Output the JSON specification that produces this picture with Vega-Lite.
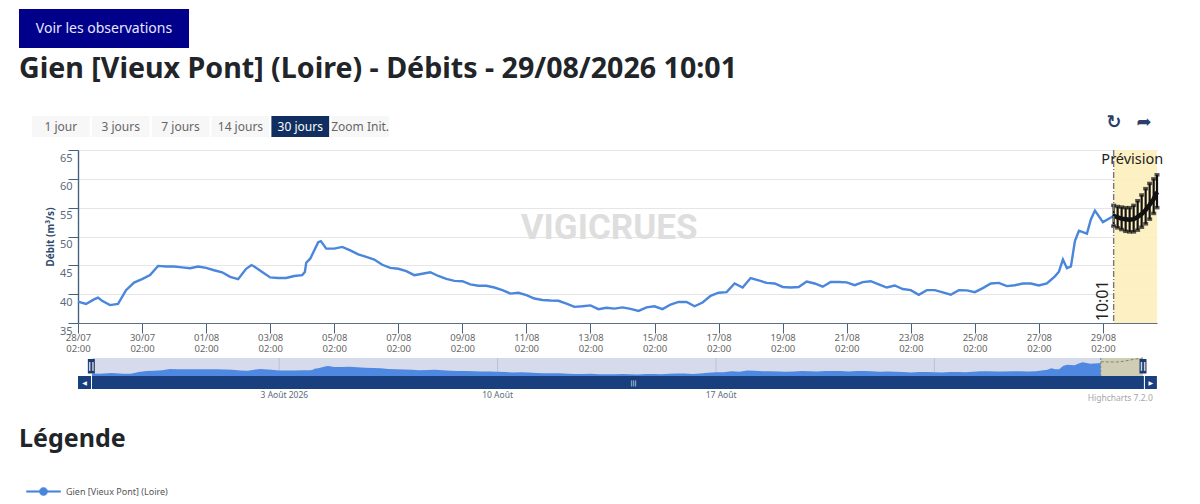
{
  "$schema": "https://vega.github.io/schema/vega-lite/v6.json",
  "autosize": {"type": "none"},
  "width": 1079,
  "height": 173,
  "padding": {"left": 78, "top": 150, "right": 43, "bottom": 181},
  "background": "white",
  "config": {"font": "Noto Sans", "view": {"stroke": null}},
  "datasets": {
    "debit": [
      {"date":"2026-07-28T02:00Z","debit":38.7},{"date":"2026-07-28T08:00Z","debit":38.3},{"date":"2026-07-28T14:00Z","debit":39.1},{"date":"2026-07-28T17:00Z","debit":39.4},{"date":"2026-07-28T20:00Z","debit":38.85},
      {"date":"2026-07-29T02:00Z","debit":38.1},{"date":"2026-07-29T08:00Z","debit":38.3},{"date":"2026-07-29T14:00Z","debit":40.7},{"date":"2026-07-29T20:00Z","debit":42.0},
      {"date":"2026-07-30T02:00Z","debit":42.6},{"date":"2026-07-30T08:00Z","debit":43.3},{"date":"2026-07-30T14:00Z","debit":44.9},{"date":"2026-07-30T20:00Z","debit":44.8},
      {"date":"2026-07-31T02:00Z","debit":44.8},{"date":"2026-07-31T08:00Z","debit":44.65},{"date":"2026-07-31T14:00Z","debit":44.5},{"date":"2026-07-31T20:00Z","debit":44.8},
      {"date":"2026-08-01T02:00Z","debit":44.55},{"date":"2026-08-01T08:00Z","debit":44.15},{"date":"2026-08-01T14:00Z","debit":43.8},{"date":"2026-08-01T20:00Z","debit":43.0},
      {"date":"2026-08-02T02:00Z","debit":42.6},{"date":"2026-08-02T08:00Z","debit":44.4},{"date":"2026-08-02T12:00Z","debit":45.05},{"date":"2026-08-02T14:00Z","debit":44.8},{"date":"2026-08-02T20:00Z","debit":43.85},
      {"date":"2026-08-03T02:00Z","debit":42.9},{"date":"2026-08-03T08:00Z","debit":42.8},{"date":"2026-08-03T14:00Z","debit":42.8},{"date":"2026-08-03T20:00Z","debit":43.15},
      {"date":"2026-08-04T02:00Z","debit":43.3},{"date":"2026-08-04T04:00Z","debit":43.85},{"date":"2026-08-04T05:00Z","debit":45.45},{"date":"2026-08-04T08:00Z","debit":46.15},{"date":"2026-08-04T14:00Z","debit":49.0},{"date":"2026-08-04T16:00Z","debit":49.2},{"date":"2026-08-04T20:00Z","debit":47.9},
      {"date":"2026-08-05T02:00Z","debit":47.9},{"date":"2026-08-05T08:00Z","debit":48.2},{"date":"2026-08-05T14:00Z","debit":47.6},{"date":"2026-08-05T20:00Z","debit":46.9},
      {"date":"2026-08-06T02:00Z","debit":46.45},{"date":"2026-08-06T08:00Z","debit":46.0},{"date":"2026-08-06T14:00Z","debit":45.1},{"date":"2026-08-06T20:00Z","debit":44.55},
      {"date":"2026-08-07T02:00Z","debit":44.4},{"date":"2026-08-07T08:00Z","debit":44.0},{"date":"2026-08-07T14:00Z","debit":43.3},{"date":"2026-08-07T20:00Z","debit":43.55},
      {"date":"2026-08-08T02:00Z","debit":43.8},{"date":"2026-08-08T08:00Z","debit":43.15},{"date":"2026-08-08T14:00Z","debit":42.65},{"date":"2026-08-08T20:00Z","debit":42.3},
      {"date":"2026-08-09T02:00Z","debit":42.25},{"date":"2026-08-09T08:00Z","debit":41.7},{"date":"2026-08-09T14:00Z","debit":41.45},{"date":"2026-08-09T20:00Z","debit":41.45},
      {"date":"2026-08-10T02:00Z","debit":41.15},{"date":"2026-08-10T08:00Z","debit":40.7},{"date":"2026-08-10T14:00Z","debit":40.1},{"date":"2026-08-10T20:00Z","debit":40.25},
      {"date":"2026-08-11T02:00Z","debit":39.85},{"date":"2026-08-11T08:00Z","debit":39.25},{"date":"2026-08-11T14:00Z","debit":39.0},{"date":"2026-08-11T20:00Z","debit":38.9},
      {"date":"2026-08-12T02:00Z","debit":38.85},{"date":"2026-08-12T08:00Z","debit":38.35},{"date":"2026-08-12T14:00Z","debit":37.8},{"date":"2026-08-12T20:00Z","debit":37.9},
      {"date":"2026-08-13T02:00Z","debit":38.05},{"date":"2026-08-13T08:00Z","debit":37.4},{"date":"2026-08-13T14:00Z","debit":37.65},{"date":"2026-08-13T20:00Z","debit":37.5},
      {"date":"2026-08-14T02:00Z","debit":37.7},{"date":"2026-08-14T08:00Z","debit":37.45},{"date":"2026-08-14T14:00Z","debit":37.1},{"date":"2026-08-14T20:00Z","debit":37.7},
      {"date":"2026-08-15T02:00Z","debit":37.9},{"date":"2026-08-15T08:00Z","debit":37.4},{"date":"2026-08-15T14:00Z","debit":38.2},{"date":"2026-08-15T20:00Z","debit":38.65},
      {"date":"2026-08-16T02:00Z","debit":38.65},{"date":"2026-08-16T08:00Z","debit":37.9},{"date":"2026-08-16T14:00Z","debit":38.55},{"date":"2026-08-16T20:00Z","debit":39.7},
      {"date":"2026-08-17T02:00Z","debit":40.25},{"date":"2026-08-17T08:00Z","debit":40.35},{"date":"2026-08-17T14:00Z","debit":41.85},{"date":"2026-08-17T20:00Z","debit":41.15},
      {"date":"2026-08-18T02:00Z","debit":42.8},{"date":"2026-08-18T08:00Z","debit":42.4},{"date":"2026-08-18T14:00Z","debit":41.95},{"date":"2026-08-18T20:00Z","debit":41.85},
      {"date":"2026-08-19T02:00Z","debit":41.25},{"date":"2026-08-19T08:00Z","debit":41.15},{"date":"2026-08-19T14:00Z","debit":41.25},{"date":"2026-08-19T20:00Z","debit":42.2},
      {"date":"2026-08-20T02:00Z","debit":41.85},{"date":"2026-08-20T08:00Z","debit":41.3},{"date":"2026-08-20T14:00Z","debit":42.1},{"date":"2026-08-20T20:00Z","debit":42.1},
      {"date":"2026-08-21T02:00Z","debit":42.05},{"date":"2026-08-21T08:00Z","debit":41.55},{"date":"2026-08-21T14:00Z","debit":42.1},{"date":"2026-08-21T20:00Z","debit":42.25},
      {"date":"2026-08-22T02:00Z","debit":41.7},{"date":"2026-08-22T08:00Z","debit":41.15},{"date":"2026-08-22T14:00Z","debit":41.5},{"date":"2026-08-22T20:00Z","debit":40.9},
      {"date":"2026-08-23T02:00Z","debit":40.7},{"date":"2026-08-23T08:00Z","debit":39.9},{"date":"2026-08-23T14:00Z","debit":40.7},{"date":"2026-08-23T20:00Z","debit":40.7},
      {"date":"2026-08-24T02:00Z","debit":40.3},{"date":"2026-08-24T08:00Z","debit":39.9},{"date":"2026-08-24T14:00Z","debit":40.7},{"date":"2026-08-24T20:00Z","debit":40.65},
      {"date":"2026-08-25T02:00Z","debit":40.35},{"date":"2026-08-25T08:00Z","debit":41.05},{"date":"2026-08-25T14:00Z","debit":41.85},{"date":"2026-08-25T20:00Z","debit":41.95},
      {"date":"2026-08-26T02:00Z","debit":41.4},{"date":"2026-08-26T08:00Z","debit":41.55},{"date":"2026-08-26T14:00Z","debit":41.85},{"date":"2026-08-26T20:00Z","debit":41.85},
      {"date":"2026-08-27T02:00Z","debit":41.5},{"date":"2026-08-27T08:00Z","debit":41.85},{"date":"2026-08-27T14:00Z","debit":43.1},{"date":"2026-08-27T17:00Z","debit":43.9},{"date":"2026-08-27T20:00Z","debit":46.0},{"date":"2026-08-27T23:00Z","debit":44.5},
      {"date":"2026-08-28T02:00Z","debit":44.8},{"date":"2026-08-28T05:00Z","debit":49.2},{"date":"2026-08-28T08:00Z","debit":51.0},{"date":"2026-08-28T14:00Z","debit":50.5},{"date":"2026-08-28T17:00Z","debit":53.0},{"date":"2026-08-28T20:00Z","debit":54.5},
      {"date":"2026-08-29T02:00Z","debit":52.5},{"date":"2026-08-29T08:00Z","debit":53.3},{"date":"2026-08-29T10:01Z","debit":53.6}
    ],
    "prevision": [
      {"date":"2026-08-29T10:01Z","bas":51.8,"debit":53.6,"haut":55.4},
      {"date":"2026-08-29T13:00Z","bas":51.5,"debit":53.3,"haut":55.2},
      {"date":"2026-08-29T16:00Z","bas":51.2,"debit":53.1,"haut":55.1},
      {"date":"2026-08-29T19:00Z","bas":50.9,"debit":53.0,"haut":55.0},
      {"date":"2026-08-29T22:00Z","bas":50.8,"debit":52.9,"haut":55.0},
      {"date":"2026-08-30T01:00Z","bas":50.8,"debit":53.0,"haut":55.4},
      {"date":"2026-08-30T04:00Z","bas":51.1,"debit":53.4,"haut":56.2},
      {"date":"2026-08-30T07:00Z","bas":51.6,"debit":53.9,"haut":57.2},
      {"date":"2026-08-30T10:00Z","bas":52.2,"debit":54.6,"haut":58.3},
      {"date":"2026-08-30T13:00Z","bas":53.0,"debit":55.5,"haut":59.2},
      {"date":"2026-08-30T16:00Z","bas":54.0,"debit":56.5,"haut":60.0},
      {"date":"2026-08-30T18:30Z","bas":55.0,"debit":57.7,"haut":60.7}
    ],
    "periodes": [
      {"periode":"historique","debut":"2026-07-28T02:00Z","fin":"2026-08-30T18:30Z"},
      {"periode":"prévision","debut":"2026-08-29T10:01Z","fin":"2026-08-30T18:30Z"}
    ],
    "defilement": [
      {"barre":"défilement","element":"bouton","debut":"2026-07-27T15:14Z","fin":"2026-07-28T01:14Z","date":"2026-07-27T20:14Z","symbole":"◀"},
      {"barre":"défilement","element":"piste","debut":"2026-07-28T02:00Z","fin":"2026-08-30T19:12Z","date":"2026-08-14T10:30Z","symbole":"|||"},
      {"barre":"défilement","element":"bouton","debut":"2026-08-30T20:00Z","fin":"2026-08-31T05:12Z","date":"2026-08-31T00:36Z","symbole":"▶"}
    ]
  },
  "layer": [
    {
      "layer": [
        {
          "data": {"name": "periodes"},
          "transform": [{"filter": "datum.periode == 'prévision'"}],
          "mark": {"type": "rect", "color": "#fdf0bc", "opacity": 0.9},
          "encoding": {
            "x": {
              "field": "debut", "type": "temporal",
              "scale": {"type": "utc", "domain": ["2026-07-28T02:00:00Z", "2026-08-30T18:30:00Z"]},
              "axis": {
                "title": null,
                "values": [
                  {"year":2026,"month":7,"date":28,"hours":2,"utc":true},{"year":2026,"month":7,"date":30,"hours":2,"utc":true},
                  {"year":2026,"month":8,"date":1,"hours":2,"utc":true},{"year":2026,"month":8,"date":3,"hours":2,"utc":true},
                  {"year":2026,"month":8,"date":5,"hours":2,"utc":true},{"year":2026,"month":8,"date":7,"hours":2,"utc":true},
                  {"year":2026,"month":8,"date":9,"hours":2,"utc":true},{"year":2026,"month":8,"date":11,"hours":2,"utc":true},
                  {"year":2026,"month":8,"date":13,"hours":2,"utc":true},{"year":2026,"month":8,"date":15,"hours":2,"utc":true},
                  {"year":2026,"month":8,"date":17,"hours":2,"utc":true},{"year":2026,"month":8,"date":19,"hours":2,"utc":true},
                  {"year":2026,"month":8,"date":21,"hours":2,"utc":true},{"year":2026,"month":8,"date":23,"hours":2,"utc":true},
                  {"year":2026,"month":8,"date":25,"hours":2,"utc":true},{"year":2026,"month":8,"date":27,"hours":2,"utc":true},
                  {"year":2026,"month":8,"date":29,"hours":2,"utc":true}
                ],
                "labelExpr": "[utcFormat(datum.value, '%d/%m'), utcFormat(datum.value, '%H:%M')]",
                "labelFlush": false, "labelOverlap": false, "labelBound": false,
                "labelFontSize": 9.5, "labelColor": "#666666", "labelLineHeight": 11.5, "labelPadding": -1,
                "tickSize": 10, "tickColor": "#46607f", "domainColor": "#5d6f85", "domainWidth": 1.2,
                "grid": false
              }
            },
            "x2": {"field": "fin"}
          }
        },
        {
          "data": {"values": [{"texte": "VIGICRUES", "date": "2026-08-13T16:00:00Z", "debit": 51.5}]},
          "mark": {"type": "text", "fontSize": 35, "fontWeight": "bold", "font": "Roboto", "color": "#dedede"},
          "encoding": {
            "x": {"field": "date", "type": "temporal"},
            "y": {"field": "debit", "type": "quantitative"},
            "text": {"field": "texte"}
          }
        },
        {
          "data": {"name": "debit"},
          "mark": {"type": "line", "strokeWidth": 2.4, "interpolate": "linear"},
          "encoding": {
            "x": {"field": "date", "type": "temporal"},
            "y": {
              "field": "debit", "type": "quantitative",
              "scale": {"domain": [35, 65], "nice": false, "zero": false},
              "axis": {
                "title": "Débit (m³/s)", "titleFontSize": 10, "titleFontWeight": "bold", "titleColor": "#2f4a6b", "titlePadding": 4,
                "values": [35, 40, 45, 50, 55, 60, 65], "tickCount": 7,
                "labelFontSize": 11, "labelColor": "#5c6b7c", "labelOffset": 8, "labelPadding": -4, "labelBound": false, "labelFlush": false, "labelOverlap": false,
                "tickSize": 10, "tickColor": "#46607f", "domainColor": "#46607f", "domainWidth": 1.4,
                "grid": true, "gridColor": "#e6e6e6", "gridWidth": 1
              }
            },
            "color": {
              "datum": "Gien [Vieux Pont] (Loire)", "type": "nominal",
              "scale": {"range": ["#4a86dc"]},
              "legend": {
                "orient": "none", "legendX": -52, "legendY": 324, "title": null,
                "symbolType": "M-1,-0.05L1,-0.05L1,0.05L-1,0.05ZM0.24,0A0.24,0.24 0 1 1 -0.24,0A0.24,0.24 0 1 1 0.24,0Z",
                "symbolSize": 1156, "symbolFillColor": "#4a86dc", "symbolStrokeColor": "#4a86dc", "symbolStrokeWidth": 0.5,
                "labelFontSize": 9, "labelColor": "#555555", "labelOffset": 5
              }
            }
          }
        },
        {
          "data": {"name": "prevision"},
          "mark": {"type": "rule", "color": "#111111", "strokeWidth": 2.2},
          "encoding": {
            "x": {"field": "date", "type": "temporal"},
            "y": {"field": "bas", "type": "quantitative"},
            "y2": {"field": "haut"}
          }
        },
        {
          "data": {"name": "prevision"},
          "mark": {"type": "tick", "orient": "horizontal", "color": "#111111", "size": 5, "thickness": 3.5},
          "encoding": {
            "x": {"field": "date", "type": "temporal"},
            "y": {"field": "haut", "type": "quantitative"}
          }
        },
        {
          "data": {"name": "prevision"},
          "mark": {"type": "tick", "orient": "horizontal", "color": "#111111", "size": 5, "thickness": 3.5},
          "encoding": {
            "x": {"field": "date", "type": "temporal"},
            "y": {"field": "bas", "type": "quantitative"}
          }
        },
        {
          "data": {"name": "prevision"},
          "mark": {"type": "line", "color": "#111111", "strokeWidth": 4.5},
          "encoding": {
            "x": {"field": "date", "type": "temporal"},
            "y": {"field": "debit", "type": "quantitative"}
          }
        },
        {
          "data": {"values": [{"date": "2026-08-29T10:01:00Z"}]},
          "mark": {"type": "rule", "color": "#777777", "strokeWidth": 1.4, "strokeDash": [6, 2, 1, 2]},
          "encoding": {"x": {"field": "date", "type": "temporal"}}
        },
        {
          "data": {"values": [{"texte": "10:01", "date": "2026-08-29T10:01:00Z", "debit": 35.3}]},
          "mark": {"type": "text", "angle": 270, "align": "left", "baseline": "bottom", "fontSize": 16, "color": "#222222", "dy": -3},
          "encoding": {
            "x": {"field": "date", "type": "temporal"},
            "y": {"field": "debit", "type": "quantitative"},
            "text": {"field": "texte"}
          }
        },
        {
          "data": {"values": [{"texte": "Prévision", "date": "2026-08-30T00:00:00Z", "debit": 63.2}]},
          "mark": {"type": "text", "fontSize": 14.5, "color": "#222222"},
          "encoding": {
            "x": {"field": "date", "type": "temporal"},
            "y": {"field": "debit", "type": "quantitative"},
            "text": {"field": "texte"}
          }
        }
      ]
    },
    {
      "layer": [
        {
          "data": {"name": "periodes"},
          "mark": {"type": "rect"},
          "encoding": {
            "x": {
              "field": "debut", "type": "temporal", "axis": null,
              "scale": {"type": "utc", "domain": ["2026-07-28T02:00:00Z", "2026-08-30T18:30:00Z"], "range": [14, 1065]}
            },
            "x2": {"field": "fin"},
            "y": {"datum": 35, "type": "quantitative", "axis": null, "scale": {"domain": [35, 60.7], "nice": false, "zero": false, "range": [226, 208]}},
            "y2": {"datum": 60.7},
            "color": {"condition": {"test": "datum.periode == 'prévision'", "value": "#cfcdb4"}, "value": "#d5dbea"}
          }
        },
        {
          "data": {"values": [{"date": "2026-08-03T02:00:00Z"}, {"date": "2026-08-10T02:00:00Z"}, {"date": "2026-08-17T02:00:00Z"}, {"date": "2026-08-24T02:00:00Z"}]},
          "mark": {"type": "rule", "color": "#bcc2d2", "strokeWidth": 1},
          "encoding": {
            "x": {"field": "date", "type": "temporal", "axis": null},
            "y": {"datum": 35, "type": "quantitative", "axis": null},
            "y2": {"datum": 60.7}
          }
        },
        {
          "data": {"name": "debit"},
          "mark": {"type": "area", "color": "#4f88e0", "opacity": 1},
          "encoding": {
            "x": {"field": "date", "type": "temporal", "axis": null},
            "y": {"field": "debit", "type": "quantitative", "axis": null},
            "y2": {"datum": 35}
          }
        },
        {
          "data": {"name": "prevision"},
          "mark": {"type": "line", "color": "#7a8478", "strokeWidth": 1, "strokeDash": [3, 2]},
          "encoding": {
            "x": {"field": "date", "type": "temporal", "axis": null},
            "y": {"field": "haut", "type": "quantitative", "axis": null}
          }
        },
        {
          "data": {"values": [{"date": "2026-08-29T10:01:00Z"}]},
          "mark": {"type": "rule", "color": "#7a8478", "strokeWidth": 1, "strokeDash": [2, 2]},
          "encoding": {
            "x": {"field": "date", "type": "temporal", "axis": null},
            "y": {"datum": 35, "type": "quantitative", "axis": null},
            "y2": {"datum": 60.7}
          }
        },
        {
          "data": {"values": [{"date": "2026-07-28T01:30:00Z", "bas": 38.6, "haut": 59.3, "milieu": 49, "symbole": "||"}, {"date": "2026-08-30T18:30:00Z", "bas": 38.6, "haut": 59.3, "milieu": 49, "symbole": "||"}]},
          "layer": [
            {
              "mark": {"type": "rule", "color": "#1d3b6e", "strokeWidth": 7},
              "encoding": {
                "x": {"field": "date", "type": "temporal", "axis": null},
                "y": {"field": "bas", "type": "quantitative", "axis": null},
                "y2": {"field": "haut"}
              }
            },
            {
              "mark": {"type": "text", "color": "white", "fontSize": 9, "font": "DejaVu Sans", "fontWeight": "bold"},
              "encoding": {
                "x": {"field": "date", "type": "temporal", "axis": null},
                "y": {"field": "milieu", "type": "quantitative", "axis": null},
                "text": {"field": "symbole"}
              }
            }
          ]
        }
      ]
    },
    {
      "layer": [
        {
          "data": {"name": "defilement"},
          "mark": {"type": "rect", "color": "#1a3f7f"},
          "encoding": {
            "x": {
              "field": "debut", "type": "temporal", "axis": null,
              "scale": {"type": "utc", "domain": ["2026-07-28T02:00:00Z", "2026-08-30T18:30:00Z"], "range": [14, 1065]}
            },
            "x2": {"field": "fin"},
            "y": {"field": "barre", "type": "nominal", "axis": null, "scale": {"type": "band", "range": [226, 239], "paddingInner": 0, "paddingOuter": 0}}
          }
        },
        {
          "data": {"name": "defilement"},
          "mark": {"type": "text", "color": "white", "fontSize": 6, "font": "DejaVu Sans"},
          "encoding": {
            "x": {"field": "date", "type": "temporal", "axis": null},
            "y": {"field": "barre", "type": "nominal", "axis": null},
            "text": {"field": "symbole"}
          }
        },
        {
          "data": {"values": [
            {"barre": "défilement", "date": "2026-08-03T06:00:00Z", "texte": "3 Août 2026"},
            {"barre": "défilement", "date": "2026-08-10T02:00:00Z", "texte": "10 Août"},
            {"barre": "défilement", "date": "2026-08-17T06:00:00Z", "texte": "17 Août"}
          ]},
          "mark": {"type": "text", "color": "#5c6b7c", "fontSize": 8.5, "dy": 12},
          "encoding": {
            "x": {"field": "date", "type": "temporal", "axis": null},
            "y": {"field": "barre", "type": "nominal", "axis": null},
            "text": {"field": "texte"}
          }
        },
        {
          "data": {"values": [{"barre": "défilement", "date": "2026-08-31T02:00:00Z", "texte": "Highcharts 7.2.0"}]},
          "mark": {"type": "text", "color": "#a6a6a6", "fontSize": 8.5, "align": "right", "dy": 15},
          "encoding": {
            "x": {"field": "date", "type": "temporal", "axis": null},
            "y": {"field": "barre", "type": "nominal", "axis": null},
            "text": {"field": "texte"}
          }
        }
      ]
    },
    {
      "data": {"values": [{"bouton": "Voir les observations"}]},
      "encoding": {
        "x": {"field": "bouton", "type": "nominal", "axis": null, "scale": {"type": "band", "range": [-59, 111], "paddingInner": 0, "paddingOuter": 0}},
        "y": {"field": "bouton", "type": "nominal", "axis": null, "scale": {"type": "band", "range": [-141, -102], "paddingInner": 0, "paddingOuter": 0}}
      },
      "layer": [
        {"mark": {"type": "rect", "color": "#00008b"}},
        {"mark": {"type": "text", "color": "#e8e8ff", "fontSize": 14}, "encoding": {"text": {"field": "bouton"}}}
      ]
    },
    {
      "data": {"values": [
        {"ligne": "zoom", "bouton": "1 jour", "actif": false},
        {"ligne": "zoom", "bouton": "3 jours", "actif": false},
        {"ligne": "zoom", "bouton": "7 jours", "actif": false},
        {"ligne": "zoom", "bouton": "14 jours", "actif": false},
        {"ligne": "zoom", "bouton": "30 jours", "actif": true},
        {"ligne": "zoom", "bouton": "Zoom Init.", "actif": false}
      ]},
      "encoding": {
        "x": {"field": "bouton", "type": "nominal", "sort": null, "axis": null, "scale": {"type": "band", "range": [-46, 311], "paddingInner": 0.035, "paddingOuter": 0}},
        "y": {"field": "ligne", "type": "nominal", "axis": null, "scale": {"type": "band", "range": [-34, -13], "paddingInner": 0, "paddingOuter": 0}}
      },
      "layer": [
        {"mark": {"type": "rect"}, "encoding": {"color": {"condition": {"test": "datum.actif", "value": "#102f60"}, "value": "#f7f7f7"}}},
        {"mark": {"type": "text", "fontSize": 12}, "encoding": {"text": {"field": "bouton"}, "color": {"condition": {"test": "datum.actif", "value": "#ffffff"}, "value": "#666666"}}}
      ]
    },
    {
      "data": {"values": [{"icone": "↻"}, {"icone": "➦"}]},
      "mark": {"type": "text", "font": "DejaVu Sans", "fontSize": 18, "color": "#2b4068", "fontWeight": "bold"},
      "encoding": {
        "x": {"field": "icone", "type": "nominal", "sort": null, "axis": null, "scale": {"type": "point", "range": [1036, 1066], "padding": 0}},
        "y": {"datum": "barre d'outils", "type": "nominal", "axis": null, "scale": {"type": "point", "range": [-27, -27], "padding": 0}},
        "text": {"field": "icone"}
      }
    },
    {
      "data": {"values": [{"texte": "Gien [Vieux Pont] (Loire) - Débits - 29/08/2026 10:01"}, {"texte": "Légende"}]},
      "mark": {"type": "text", "align": "left", "fontWeight": "bold", "color": "#212529"},
      "encoding": {
        "x": {"field": "texte", "type": "nominal", "sort": null, "axis": null, "scale": {"type": "point", "range": [-59, -59], "padding": 0}},
        "y": {"field": "texte", "type": "nominal", "sort": null, "axis": null, "scale": {"type": "point", "range": [-81, 289], "padding": 0}},
        "size": {"field": "texte", "type": "nominal", "sort": null, "legend": null, "scale": {"type": "ordinal", "range": [28.6, 25]}},
        "text": {"field": "texte"}
      }
    }
  ],
  "resolve": {"scale": {"x": "independent", "y": "independent", "color": "independent", "size": "independent"}}
}
